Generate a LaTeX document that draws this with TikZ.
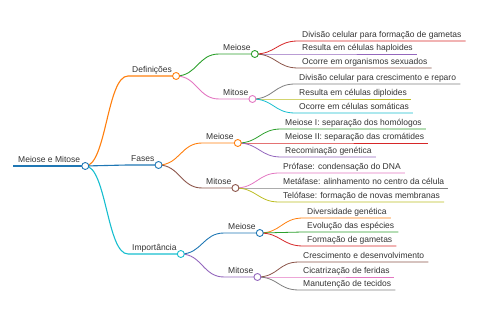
\documentclass[tikz,border=0pt]{standalone}
\usepackage{fontspec}
\setmainfont{Liberation Sans}
\definecolor{cblue}{HTML}{1F77B4}
\definecolor{corange}{HTML}{FF7F0E}
\definecolor{cgreen}{HTML}{2CA02C}
\definecolor{cred}{HTML}{D62728}
\definecolor{cpurple}{HTML}{9467BD}
\definecolor{cbrown}{HTML}{8C564B}
\definecolor{cpink}{HTML}{E377C2}
\definecolor{cgray}{HTML}{7F7F7F}
\definecolor{colive}{HTML}{BCBD22}
\definecolor{ccyan}{HTML}{17BECF}
\definecolor{txtc}{HTML}{333333}
\newcommand\lk[3]{\draw[#1] (#2) .. controls +(21pt,0pt) and +(-21pt,0pt) .. (#3.south west) -- (#3.south east);}
\begin{document}
\begin{tikzpicture}[x=1pt,y=-1pt,
  txt/.style={anchor=south west, inner xsep=4pt, inner ysep=0pt, text height=6.2pt, text depth=3pt, font=\fontsize{8.5}{10}\selectfont, text=txtc},
  dot/.style={circle, draw, fill=white, minimum size=7pt, inner sep=0pt, line width=0.9pt},
  l1/.style={line width=1.1pt},
  l2/.style={line width=0.9pt},
  l3/.style={line width=0.8pt}]
\useasboundingbox (0,0) rectangle (480,320);
% root
\node[txt, inner xsep=5pt] (root) at (13,166) {Meiose e Mitose};
\draw[cblue, line width=1.6pt] (root.south west) -- (root.south east);
% level 1
\node[txt] (def) at (128,76) {Definições};
\node[txt] (fas) at (127,165) {Fases};
\node[txt] (imp) at (128,254) {Importância};
% level 2
\node[txt] (dme) at (219,54) {Meiose};
\node[txt] (dmi) at (219,99) {Mitose};
\node[txt] (fme) at (202,143) {Meiose};
\node[txt] (fmi) at (202,188) {Mitose};
\node[txt] (ime) at (224,233) {Meiose};
\node[txt] (imi) at (224,277) {Mitose};
% leaves
\node[txt] (d1) at (298,41) {Divisão celular para formação de gametas};
\node[txt] (d2) at (298,54) {Resulta em células haploides};
\node[txt] (d3) at (298,68) {Ocorre em organismos sexuados};
\node[txt] (d4) at (295,84) {Divisão celular para crescimento e reparo};
\node[txt] (d5) at (295,99) {Resulta em células diploides};
\node[txt] (d6) at (295,113) {Ocorre em células somáticas};
\node[txt] (f1) at (281,129) {Meiose I: separação dos homólogos};
\node[txt] (f2) at (281,143) {Meiose II: separação das cromátides};
\node[txt] (f3) at (281,157) {Recominação genética};
\node[txt] (f4) at (279,173) {Prófase: condensação do DNA};
\node[txt] (f5) at (279,188) {Metáfase: alinhamento no centro da célula};
\node[txt] (f6) at (279,202) {Telófase: formação de novas membranas};
\node[txt] (i1) at (303,218) {Diversidade genética};
\node[txt] (i2) at (303,232) {Evolução das espécies};
\node[txt] (i3) at (303,246) {Formação de gametas};
\node[txt] (i4) at (299,262) {Crescimento e desenvolvimento};
\node[txt] (i5) at (299,277) {Cicatrização de feridas};
\node[txt] (i6) at (299,290) {Manutenção de tecidos};
% links
\lk{corange,l1}{root.south east}{def}
\lk{cblue,l1}{root.south east}{fas}
\lk{ccyan,l1}{root.south east}{imp}
\lk{cgreen,l2}{def.south east}{dme}
\lk{cpink,l2}{def.south east}{dmi}
\lk{corange,l2}{fas.south east}{fme}
\lk{cbrown,l2}{fas.south east}{fmi}
\lk{cblue,l2}{imp.south east}{ime}
\lk{cpurple,l2}{imp.south east}{imi}
\lk{cred,l3}{dme.south east}{d1}
\lk{cpurple,l3}{dme.south east}{d2}
\lk{cbrown,l3}{dme.south east}{d3}
\lk{cgray,l3}{dmi.south east}{d4}
\lk{colive,l3}{dmi.south east}{d5}
\lk{ccyan,l3}{dmi.south east}{d6}
\lk{cgreen,l3}{fme.south east}{f1}
\lk{cred,l3}{fme.south east}{f2}
\lk{cpurple,l3}{fme.south east}{f3}
\lk{cpink,l3}{fmi.south east}{f4}
\lk{cgray,l3}{fmi.south east}{f5}
\lk{colive,l3}{fmi.south east}{f6}
\lk{corange,l3}{ime.south east}{i1}
\lk{cgreen,l3}{ime.south east}{i2}
\lk{cred,l3}{ime.south east}{i3}
\lk{cbrown,l3}{imi.south east}{i4}
\lk{cpink,l3}{imi.south east}{i5}
\lk{cgray,l3}{imi.south east}{i6}
% circles
\node[dot, draw=cblue] (rootc) at (root.south east) {};
\node[dot, draw=corange] (defc) at (def.south east) {};
\node[dot, draw=cblue] (fasc) at (fas.south east) {};
\node[dot, draw=ccyan] (impc) at (imp.south east) {};
\node[dot, draw=cgreen] (dmec) at (dme.south east) {};
\node[dot, draw=cpink] (dmic) at (dmi.south east) {};
\node[dot, draw=corange] (fmec) at (fme.south east) {};
\node[dot, draw=cbrown] (fmic) at (fmi.south east) {};
\node[dot, draw=cblue] (imec) at (ime.south east) {};
\node[dot, draw=cpurple] (imic) at (imi.south east) {};
\end{tikzpicture}
\end{document}
